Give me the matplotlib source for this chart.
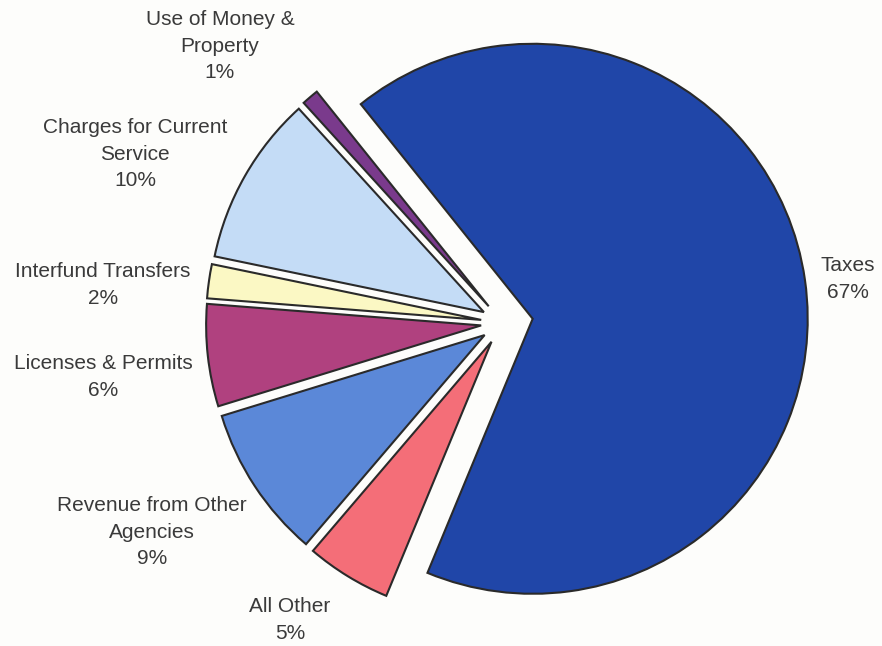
import matplotlib.pyplot as plt

# revenue sources, share of total (%)
labels = ["Taxes", "Use of Money &\nProperty", "Charges for Current\nService",
          "Interfund Transfers", "Licenses & Permits", "Revenue from Other\nAgencies",
          "All Other"]
shares = [67, 1, 10, 2, 6, 9, 5]
colors = ["#2046a8", "#7a3a8c", "#c4dcf6", "#fbf8c4", "#b0417f", "#5b88d8", "#f46e78"]
# offsets are in data units (pixels here, since the radius is in pixels)
explode = [30, 22, 22, 22, 22, 22, 22]

# label anchor points in pixels (x, y from top)
label_pos = [(848, 279), (220, 46), (135, 154), (103, 285), (103, 377), (152, 532), (290, 620)]

W, H = 882, 646
fig = plt.figure(figsize=(W / 100, H / 100), dpi=100)
fig.patch.set_facecolor("#fdfdfb")
ax = fig.add_axes([0, 0, 1, 1])
ax.set_facecolor("#fdfdfb")

ax.pie(shares, colors=colors, explode=explode, startangle=-112.5,
       center=(503, H - 323), radius=275, frame=True,
       wedgeprops=dict(edgecolor="#2a2a2a", linewidth=1.5))

for lab, val, (x, y) in zip(labels, shares, label_pos):
    ax.text(x, H - y, f"{lab}\n{val}%", ha="center", va="center",
            fontsize=15, color="#3a3a3a", family="Liberation Sans", linespacing=1.5)

ax.set_xlim(0, W)
ax.set_ylim(0, H)
ax.set_aspect("equal")
ax.axis("off")

fig.savefig("out.png", dpi=100, facecolor=fig.get_facecolor())
